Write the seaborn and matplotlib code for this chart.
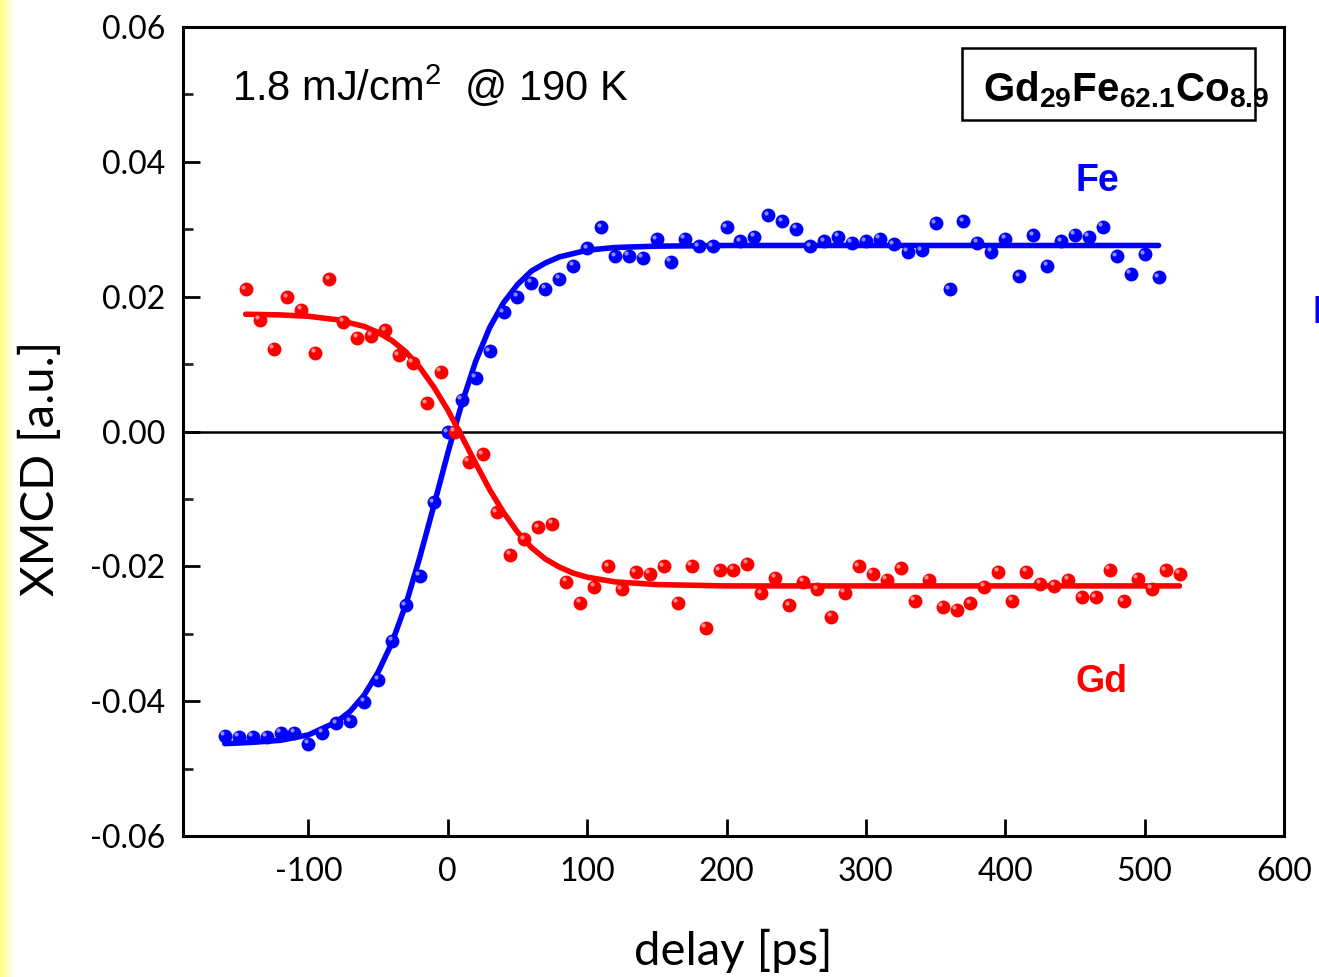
import matplotlib
matplotlib.use("Agg")

import matplotlib.pyplot as plt
import matplotlib.transforms as mtransforms
import seaborn as sns
import numpy as np
import pandas as pd

# delay axis of each measured series [ps]
fe_delay = list(range(-160, 511, 10))
gd_delay = list(range(-145, 526, 10))

# XMCD signal [a.u.]
fe_xmcd = [-0.0451, -0.0453, -0.0453, -0.0453, -0.0447, -0.0447, -0.0463, -0.0447,
           -0.0433, -0.0430, -0.0401, -0.0368, -0.0310, -0.0258, -0.0214, -0.0105,
           -0.0001, 0.0047, 0.0080, 0.0119, 0.0177, 0.0200, 0.0221, 0.0212,
           0.0227, 0.0246, 0.0272, 0.0303, 0.0260, 0.0261, 0.0258, 0.0285,
           0.0252, 0.0286, 0.0275, 0.0275, 0.0303, 0.0282, 0.0289, 0.0321,
           0.0312, 0.0301, 0.0275, 0.0282, 0.0289, 0.0280, 0.0282, 0.0286,
           0.0278, 0.0267, 0.0269, 0.0309, 0.0211, 0.0312, 0.0280, 0.0267,
           0.0286, 0.0230, 0.0291, 0.0246, 0.0282, 0.0292, 0.0289, 0.0304,
           0.0260, 0.0234, 0.0263, 0.0229]
gd_xmcd = [0.0211, 0.0166, 0.0123, 0.0199, 0.0181, 0.0117, 0.0226, 0.0163,
           0.0139, 0.0142, 0.0150, 0.0113, 0.0102, 0.0042, 0.0089, 0.0000,
           -0.0045, -0.0034, -0.0120, -0.0183, -0.0160, -0.0142, -0.0137, -0.0223,
           -0.0254, -0.0230, -0.0200, -0.0234, -0.0209, -0.0211, -0.0200, -0.0254,
           -0.0199, -0.0291, -0.0206, -0.0205, -0.0196, -0.0240, -0.0217, -0.0258,
           -0.0223, -0.0234, -0.0275, -0.0239, -0.0200, -0.0211, -0.0220, -0.0203,
           -0.0251, -0.0220, -0.0260, -0.0264, -0.0255, -0.0230, -0.0208, -0.0251,
           -0.0208, -0.0226, -0.0229, -0.0220, -0.0246, -0.0246, -0.0205, -0.0252,
           -0.0218, -0.0233, -0.0206, -0.0211]

# fitted curves
fe_fit_delay = [-160, -140, -120, -100, -80, -70, -60, -50, -40, -30, -20, -10, 0,
                10, 20, 30, 40, 50, 60, 70, 80, 100, 120, 150, 200, 510]
fe_fit_xmcd = [-0.0463, -0.0461, -0.0458, -0.0450, -0.0431, -0.0415, -0.0391, -0.0357,
               -0.0313, -0.0256, -0.0186, -0.0110, -0.0032, 0.0041, 0.0104, 0.0154,
               0.0191, 0.0218, 0.0238, 0.0250, 0.0259, 0.0269, 0.0273, 0.0275,
               0.0276, 0.0276]
gd_fit_delay = [-145, -120, -100, -80, -60, -50, -40, -30, -20, -10, 0, 10, 20,
                30, 40, 50, 60, 70, 80, 90, 100, 120, 150, 200, 525]
gd_fit_xmcd = [0.0174, 0.0173, 0.0171, 0.0166, 0.0156, 0.0147, 0.0135, 0.0118,
               0.0095, 0.0066, 0.0032, -0.0007, -0.0047, -0.0086, -0.0120, -0.0149,
               -0.0172, -0.0189, -0.0201, -0.0210, -0.0216, -0.0223, -0.0227, -0.0229,
               -0.0229]

x_ticks = [-100, 0, 100, 200, 300, 400, 500, 600]
y_ticks = [-0.06, -0.04, -0.02, 0.00, 0.02, 0.04, 0.06]
y_minor = [-0.05, -0.03, -0.01, 0.01, 0.03, 0.05]

BLUE = "#0000ff"
RED = "#ff0000"

sns.set_theme(style="ticks")
plt.rcParams["font.family"] = ["Lato", "DejaVu Sans"]
plt.rcParams["text.color"] = "black"
plt.rcParams["axes.labelcolor"] = "black"
plt.rcParams["mathtext.fontset"] = "custom"
plt.rcParams["mathtext.rm"] = "Liberation Sans"
plt.rcParams["mathtext.bf"] = "Liberation Sans:bold"

fig = plt.figure(figsize=(13.19, 9.77), dpi=100)
ax = fig.add_axes([0.1387, 0.1443, 0.8348, 0.8280])

# yellow slide edge on the left
strip = fig.add_axes([0, 0, 15 / 1319, 1], zorder=-5)
grad = np.linspace(0, 1, 64)[None, :, None]
rgb = np.concatenate([np.ones_like(grad), np.ones_like(grad), 0.5 + 0.5 * grad], axis=2)
strip.imshow(rgb, aspect="auto", extent=[0, 1, 0, 1])
strip.axis("off")

ax.axhline(0, color="black", lw=1.8, zorder=1)

fe_df = pd.DataFrame({"delay": fe_delay, "xmcd": fe_xmcd})
gd_df = pd.DataFrame({"delay": gd_delay, "xmcd": gd_xmcd})

sns.lineplot(x=fe_fit_delay, y=fe_fit_xmcd, color=BLUE, lw=4, estimator=None,
             sort=False, ax=ax, zorder=2)
sns.lineplot(x=gd_fit_delay, y=gd_fit_xmcd, color=RED, lw=4, estimator=None,
             sort=False, ax=ax, zorder=2)

# shaded "ball" markers
shine = mtransforms.offset_copy(ax.transData, fig=fig, x=-1.8, y=1.8, units="points")
for df, col in [(fe_df, BLUE), (gd_df, RED)]:
    sns.scatterplot(data=df, x="delay", y="xmcd", color=col, s=100, linewidth=0,
                    ax=ax, zorder=3)
    ax.scatter(df["delay"], df["xmcd"], s=9, color="white", alpha=0.55,
               linewidths=0, transform=shine, zorder=4)

ax.set_xlim(-190, 600)
ax.set_ylim(-0.06, 0.06)
ax.set_xticks(x_ticks)
ax.set_yticks(y_ticks)
ax.set_yticks(y_minor, minor=True)
ax.set_xticklabels([str(v) for v in x_ticks])
ax.set_yticklabels([f"{v:.2f}" for v in y_ticks])
ax.tick_params(axis="both", which="major", direction="in", length=12, width=2,
               labelsize=23, color="black", labelcolor="black")
ax.tick_params(axis="y", which="minor", direction="in", length=7, width=2)
ax.tick_params(axis="y", which="major", pad=13)
ax.tick_params(axis="x", which="major", pad=15)
ax.tick_params(top=False, right=False)
for sp in ax.spines.values():
    sp.set_linewidth(2.2)
    sp.set_color("black")

ax.set_xlabel("delay [ps]", fontsize=34, labelpad=30)
ax.set_ylabel("XMCD [a.u.]", fontsize=34, labelpad=20)
ax.yaxis.label.set_y(0.455)

ax.text(0.0445, 0.9085, r"1.8 mJ/cm$^\mathrm{2}$  @ 190 K", transform=ax.transAxes,
        fontsize=30, family="Liberation Sans", ha="left", va="baseline")

ax.add_patch(plt.Rectangle((0.7075, 0.885), 0.2662, 0.089, transform=ax.transAxes,
                           fill=False, lw=1.8, edgecolor="black", zorder=5))
ax.text(0.7266, 0.9085, r"$\mathbf{Gd_{29}Fe_{62.1}Co_{8.9}}$", transform=ax.transAxes,
        fontsize=29, ha="left", va="baseline", zorder=6, clip_on=False)

ax.text(466, 0.0372, "Fe", color=BLUE, fontsize=27, fontweight="bold",
        family="Liberation Sans", ha="center", va="center")
ax.text(469, -0.0371, "Gd", color=RED, fontsize=27, fontweight="bold",
        family="Liberation Sans", ha="center", va="center")

# label of the next panel, cut off by the slide edge
fig.text(0.9954, 0.6796, "Fe", color=BLUE, fontsize=27, fontweight="bold",
         family="Liberation Sans", ha="left", va="center")

fig.savefig("out.png", dpi=100)
